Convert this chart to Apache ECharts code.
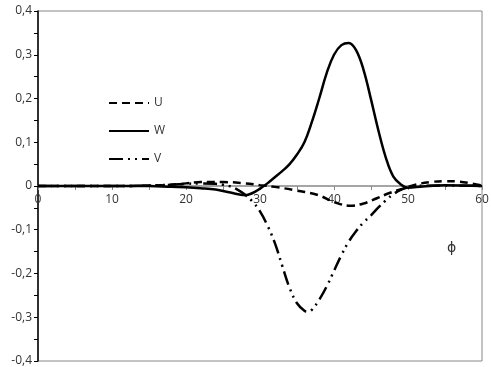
<!DOCTYPE html>
<html>
<head>
<meta charset="utf-8">
<script src="https://cdn.jsdelivr.net/npm/echarts@6/dist/echarts.min.js"></script>
<style>
  html, body { margin: 0; padding: 0; background: #fff; }
  #main { width: 491px; height: 367px; }
</style>
</head>
<body>
<div id="main"></div>
<script>
// values, [phi, value]
let uData = [[0,0],[5,0],[10,0],[15,0.001],[18,0.003],[20,0.006],[22,0.009],[25,0.009],[28,0.006],[30,0.002],
  [32,-0.002],[34.5,-0.009],[37.7,-0.02],[40.4,-0.039],[42.2,-0.045],[44,-0.04],[45.8,-0.028],[47.5,-0.016],
  [49.3,-0.006],[51,0.003],[53,0.009],[55,0.011],[57,0.01],[58.5,0.006],[60,0.001]];
let wData = [[0,0],[10,0],[15,0],[18,-0.002],[20,-0.003],[22,-0.005],[24,-0.008],[26,-0.015],[28,-0.021],
  [29,-0.016],[30,-0.006],[31,0.006],[32,0.02],[33,0.034],[34,0.05],[35,0.072],[36,0.1],[37,0.146],[38,0.2],
  [39,0.2575],[40,0.3],[41,0.322],[42,0.327],[43,0.31],[44,0.265],[45,0.198],[46,0.127],[47,0.065],
  [48,0.022],[49,0.004],[50,-0.004],[52,-0.001],[55,0.002],[60,0]];
let vData = [[0,0],[10,0],[15,0.001],[18,0.003],[20,0.005],[22,0.006],[24,0.005],[25,0.003],[26,-0.001],
  [27,-0.009],[28,-0.02],[29,-0.036],[30,-0.058],[31,-0.09],[32,-0.13],[33,-0.182],[34,-0.233],[35,-0.268],
  [36,-0.285],[36.5,-0.287],[37,-0.283],[38,-0.26],[39,-0.23],[40,-0.194],[41,-0.158],[42,-0.127],
  [43,-0.103],[44,-0.083],[45,-0.067],[46,-0.049],[47,-0.033],[48,-0.019],[49,-0.009],[50,-0.003],
  [51,0],[55,0.001],[60,0]];
let seriesNames = ['U', 'W', 'V'];

let chart = echarts.init(document.getElementById('main'));
let font = '"Open Sans", "Liberation Sans", sans-serif';

let option = {
  backgroundColor: '#fff',
  animation: false,
  textStyle: { fontFamily: font },
  grid: { left: 38, right: 9, top: 11, bottom: 6, show: true, borderColor: '#888', borderWidth: 1,
    containLabel: false, outerBoundsMode: 'none' },
  legend: {
    data: seriesNames,
    orient: 'vertical',
    left: 103, top: 92,
    itemWidth: 40, itemHeight: 14, itemGap: 16,
    itemStyle: { color: 'rgba(0,0,0,0)', borderWidth: 0, opacity: 0 },
    textStyle: { fontSize: 12, color: '#333', fontFamily: font }
  },
  xAxis: {
    type: 'value', min: 0, max: 60, interval: 10,
    position: 'bottom', offset: -175,   // sits on y = 0
    axisLine: { onZero: false, lineStyle: { color: '#888', width: 1.5 } },
    axisTick: { show: true, inside: false, length: 4, lineStyle: { color: '#888' } },
    minorTick: { show: true, splitNumber: 2, length: 4, lineStyle: { color: '#888' } },
    splitLine: { show: false },
    axisLabel: { fontSize: 12, color: '#333', margin: 8, showMinLabel: true, showMaxLabel: true }
  },
  yAxis: {
    type: 'value', min: -0.4, max: 0.4, interval: 0.1,
    axisLine: { show: true, onZero: false, lineStyle: { color: '#000', width: 1.5 } },
    axisTick: { show: true, length: 4, lineStyle: { color: '#000' } },
    minorTick: { show: true, splitNumber: 2, length: 4, lineStyle: { color: '#000' } },
    splitLine: { show: false },
    axisLabel: {
      fontSize: 12, color: '#333', margin: 6,
      formatter: function (v) { return String(Math.round(v * 10) / 10).replace('.', ','); }
    }
  },
  graphic: [{
    type: 'text', left: 447, top: 241,
    style: { text: 'ϕ', fontSize: 14, fill: '#333', fontFamily: 'DejaVu Sans' }
  }],
  series: [
    { name: 'U', type: 'line', data: uData, smooth: 0.4, symbol: 'none', z: 3,
      lineStyle: { color: '#000', width: 2.5, type: [8, 5] }, itemStyle: { color: '#000' } },
    { name: 'W', type: 'line', data: wData, smooth: 0.4, symbol: 'none', z: 4,
      lineStyle: { color: '#000', width: 2.5, type: 'solid' }, itemStyle: { color: '#000' } },
    { name: 'V', type: 'line', data: vData, smooth: 0.4, symbol: 'none', z: 2,
      lineStyle: { color: '#000', width: 2.5, type: [14, 5, 2, 5, 2, 5] }, itemStyle: { color: '#000' } }
  ]
};
chart.setOption(option);
</script>
</body>
</html>
